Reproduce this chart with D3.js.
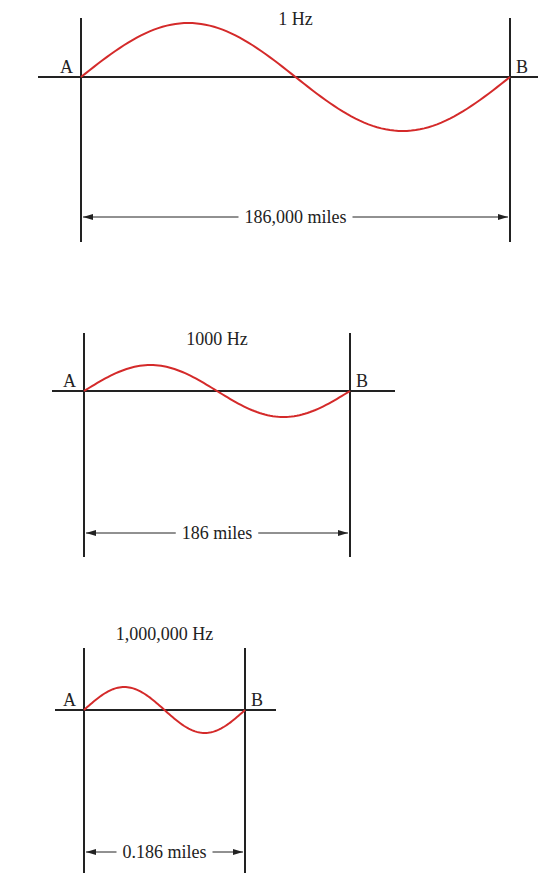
<!DOCTYPE html>
<html><head><meta charset="utf-8">
<script src="https://cdn.jsdelivr.net/npm/d3@7"></script>
<style>body{margin:0;background:#fff}</style>
</head><body>
<svg id="c" width="555" height="885" font-family="'Liberation Serif', 'DejaVu Serif', serif" font-size="18"></svg>
<script>
const freqLabels = ["1 Hz","1000 Hz","1,000,000 Hz"];
const distLabels = ["186,000 miles","186 miles","0.186 miles"];
const wavelengthPx = [429, 266, 161];
const amplitudePx = [54, 26, 23];
const svg = d3.select("#c");
const layout = [
  {ax:81, axis:77, top:18, bot:242, l:38, r:538, arr:217, ft:20},
  {ax:84, axis:391, top:333, bot:557, l:52, r:395, arr:533, ft:340},
  {ax:84, axis:710, top:648, bot:873, l:55, r:276, arr:852, ft:635}
];
const defs = svg.append("defs");
defs.append("marker").attr("id","me").attr("viewBox","0 0 10 6").attr("refX",10).attr("refY",3)
   .attr("markerWidth",10).attr("markerHeight",6).attr("markerUnits","userSpaceOnUse").attr("orient","auto")
   .append("path").attr("d","M0,0L10,3L0,6Z").attr("fill","#222");
layout.forEach((L,i)=>{
  const g = svg.append("g");
  const bx = L.ax + wavelengthPx[i];
  const x = d3.scaleLinear().domain([0,1]).range([L.ax,bx]);
  const y = d3.scaleLinear().domain([-1,1]).range([L.axis+amplitudePx[i], L.axis-amplitudePx[i]]);
  g.append("line").attr("x1",L.l).attr("x2",L.r).attr("y1",L.axis).attr("y2",L.axis).attr("stroke","#222").attr("stroke-width",2);
  [L.ax,bx].forEach(v=>g.append("line").attr("x1",v).attr("x2",v).attr("y1",L.top).attr("y2",L.bot).attr("stroke","#222").attr("stroke-width",2));
  const pts = d3.range(0,1.0001,0.01);
  g.append("path").attr("d",d3.line().x(t=>x(t)).y(t=>y(Math.sin(2*Math.PI*t)))(pts))
   .attr("fill","none").attr("stroke","#d42a2a").attr("stroke-width",2);
  g.append("text").attr("x",L.ax-8).attr("y",L.axis-4).attr("text-anchor","end").attr("fill","#222").text("A");
  g.append("text").attr("x",bx+6).attr("y",L.axis-4).attr("fill","#222").text("B");
  g.append("text").attr("x",(L.ax+bx)/2).attr("y",L.ft+5).attr("text-anchor","middle").attr("fill","#222").text(freqLabels[i]);
  const mid=(L.ax+bx)/2, lab=g.append("text").attr("x",mid).attr("y",L.arr+6).attr("text-anchor","middle").attr("fill","#222").text(distLabels[i]);
  const w = lab.node().getComputedTextLength()/2+6;
  g.append("line").attr("x1",mid-w).attr("x2",L.ax+2).attr("y1",L.arr).attr("y2",L.arr).attr("stroke","#222").attr("marker-end","url(#me)");
  g.append("line").attr("x1",mid+w).attr("x2",bx-2).attr("y1",L.arr).attr("y2",L.arr).attr("stroke","#222").attr("marker-end","url(#me)");
});
</script></body></html>
